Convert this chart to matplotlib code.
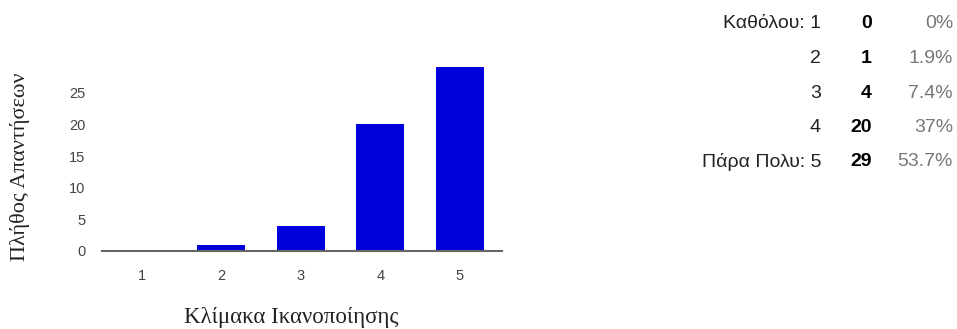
import numpy as np
import matplotlib
matplotlib.use('Agg')
from matplotlib import pyplot as plt

scale = [1, 2, 3, 4, 5]
counts = [0, 1, 4, 20, 29]
row_labels = ['Καθόλου: 1', '2', '3', '4', 'Πάρα Πολυ: 5']
percents = ['0%', '1.9%', '7.4%', '37%', '53.7%']
y_ticks = [0, 5, 10, 15, 20, 25]

W, H = 957, 329

plt.rcParams['font.family'] = ['Liberation Sans', 'DejaVu Sans']


def main():
	fig = plt.figure(figsize=(W / 100, H / 100), dpi=100)
	ax = fig.add_axes([102 / W, (H - 251) / H, 400 / W, 190 / H])

	ax.bar(scale, counts, width=0.6, color='#0000dd')
	ax.set_xlim(0.5, 5.53)
	ax.set_ylim(0, 30)
	ax.set_xticks(scale)
	ax.set_yticks(y_ticks)
	ax.tick_params(length=0, labelsize=10.5, labelcolor='#444444', pad=12)
	ax.tick_params(axis='x', pad=13)

	for s in ['top', 'right', 'left']:
		ax.spines[s].set_visible(False)
	ax.spines['bottom'].set_color('#666666')
	ax.spines['bottom'].set_linewidth(1.5)

	serif = ['Liberation Serif', 'DejaVu Serif']
	fig.text(20 / W, 1 - 167 / H, 'Πλήθος Απαντήσεων', rotation=90,
		ha='center', va='center', fontsize=16, family=serif, color='#222222')
	fig.text(291 / W, 1 - 318 / H, 'Κλίμακα Ικανοποίησης',
		ha='center', va='center', fontsize=16.5, family=serif, color='#222222')

	# summary table on the right
	for i in range(len(row_labels)):
		y = 1 - (24 + i * 34.5) / H
		fig.text(821 / W, y, row_labels[i], ha='right', va='center',
			fontsize=14, color='#222222')
		fig.text(872 / W, y, str(counts[i]), ha='right', va='center',
			fontsize=14, color='#000000', fontweight='bold')
		fig.text(953 / W, y, percents[i], ha='right', va='center',
			fontsize=14, color='#777777')

	fig.savefig('out.png', dpi=100)


main()
